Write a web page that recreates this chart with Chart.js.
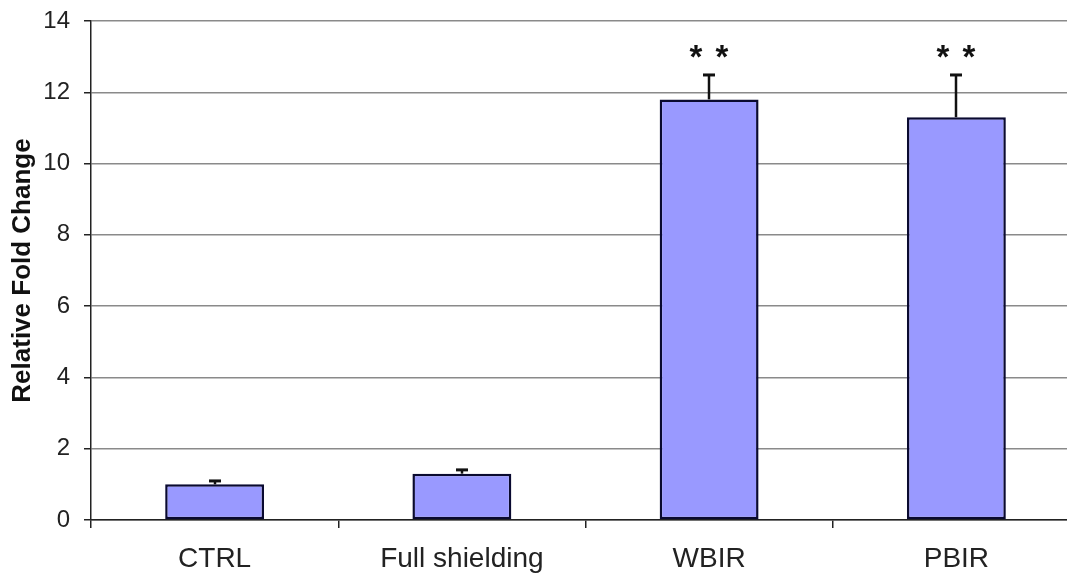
<!DOCTYPE html>
<html>
<head>
<meta charset="utf-8">
<script src="https://cdn.jsdelivr.net/npm/chart.js@4/dist/chart.umd.min.js"></script>
<style>
  html, body { margin: 0; padding: 0; background: #ffffff; overflow: hidden; width: 1067px; height: 579px; }
  #c { display: block; }
</style>
</head>
<body>
<canvas id="c" width="1080" height="579"></canvas>
<script>
const categories = ['CTRL', 'Full shielding', 'WBIR', 'PBIR'];
const foldChange = [1.0, 1.3, 11.8, 11.3];
const errorUp = [0.11, 0.12, 0.7, 1.2];
const significance = ['', '', '**', '**'];
const yTicks = [0, 2, 4, 6, 8, 10, 12, 14];

const errorBarPlugin = {
  id: 'errorBars',
  afterDatasetsDraw(chart) {
    const ctx = chart.ctx;
    const meta = chart.getDatasetMeta(0);
    const yScale = chart.scales.y;
    ctx.save();
    ctx.strokeStyle = '#111111';
    meta.data.forEach((bar, i) => {
      const yTop = yScale.getPixelForValue(foldChange[i] + errorUp[i]);
      const x = Math.round(bar.x);
      ctx.lineWidth = 2.5;
      ctx.beginPath();
      ctx.moveTo(x, bar.y);
      ctx.lineTo(x, yTop);
      ctx.stroke();
      ctx.lineWidth = 3;
      ctx.beginPath();
      ctx.moveTo(x - 6, yTop + 0.5);
      ctx.lineTo(x + 6, yTop + 0.5);
      ctx.stroke();
      const s = significance[i];
      if (s) {
        ctx.fillStyle = '#111111';
        ctx.font = 'bold 33px Arial, "Liberation Sans", sans-serif';
        ctx.textAlign = 'center';
        ctx.textBaseline = 'alphabetic';
        const chars = s.split('');
        const gap = 26;
        const start = x - gap * (chars.length - 1) / 2;
        chars.forEach((ch, k) => {
          ctx.fillText(ch, start + k * gap, yTop - 6);
        });
      }
    });
    ctx.restore();
  }
};

new Chart(document.getElementById('c'), {
  type: 'bar',
  data: {
    labels: categories,
    datasets: [{
      data: foldChange,
      backgroundColor: '#9999FF',
      borderColor: '#0a0a30',
      borderWidth: 2.5,
      borderSkipped: false,
      barPercentage: 0.4,
      categoryPercentage: 1.0
    }]
  },
  options: {
    responsive: false,
    animation: false,
    devicePixelRatio: 1,
    layout: { padding: { top: 21, right: 0, bottom: 0, left: 0 } },
    plugins: { legend: { display: false }, tooltip: { enabled: false } },
    scales: {
      x: {
        grid: { display: true, drawOnChartArea: false, drawTicks: true, tickLength: 8, tickColor: '#222222', offset: true, lineWidth: 1.5 },
        border: { display: true, color: '#222222', width: 1.5 },
        ticks: { color: '#222222', font: { family: 'Arial, "Liberation Sans", sans-serif', size: 28 }, padding: 14, maxRotation: 0 },
        afterFit(scale) { scale.height = 59; scale.paddingLeft = 0; scale.paddingRight = 0; }
      },
      y: {
        min: 0, max: 14,
        afterBuildTicks(scale) { scale.ticks = yTicks.map(v => ({ value: v })); },
        grid: { color: '#8a8a8a', lineWidth: 1.5, tickLength: 7, tickColor: '#222222' },
        border: { display: true, color: '#222222', width: 1.5 },
        ticks: { color: '#222222', font: { family: 'Arial, "Liberation Sans", sans-serif', size: 24 }, padding: 14 },
        title: {
          display: true,
          text: 'Relative Fold Change',
          color: '#111111',
          font: { family: 'Arial, "Liberation Sans", sans-serif', size: 26, weight: 'bold' },
          padding: { top: 7, bottom: 0 }
        },
        afterFit(scale) { scale.width = 91; scale.paddingTop = 0; scale.paddingBottom = 0; }
      }
    }
  },
  plugins: [errorBarPlugin]
});
</script>
</body>
</html>
